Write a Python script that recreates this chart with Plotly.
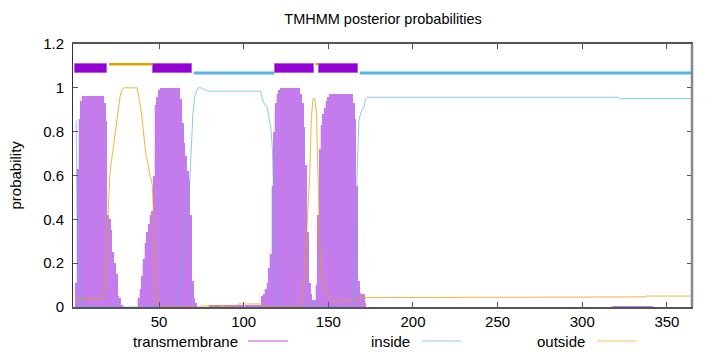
import plotly.graph_objects as go

# ---------------- data ----------------
residues = list(range(1, 366))

tm_prob = ([0.11, 0.63, 0.86, 0.94] + [0.965] * 13
           + [0.93, 0.85, 0.42, 0.40, 0.35, 0.25, 0.20, 0.15, 0.05, 0.04, 0.01]
           + [0.0] * 9
           + [0.04, 0.08, 0.14, 0.22, 0.29, 0.34, 0.38, 0.42, 0.44, 0.60, 0.92, 0.96, 0.99]
           + [1.0] * 12
           + [0.95, 0.84, 0.75, 0.69, 0.62, 0.58, 0.42, 0.12, 0.04, 0.02]
           + [0.0] * 7 + [0.01] * 31
           + [0.05, 0.06, 0.08, 0.11, 0.18, 0.24, 0.55, 0.80, 0.93, 0.97, 0.99]
           + [1.0] * 12
           + [0.97, 0.93, 0.82, 0.65, 0.34, 0.11, 0.06, 0.03, 0.03, 0.10, 0.42, 0.72,
              0.83, 0.88, 0.91, 0.94, 0.96]
           + [0.97] * 14
           + [0.93, 0.86, 0.55, 0.12, 0.065, 0.06, 0.06, 0.02]
           + [0.0] * 145 + [0.003] * 24 + [0.0] * 24)

inside_prob = ([0.85, 0.33, 0.10, 0.02] + [0.0] * 56
               + [0.01, 0.06, 0.15, 0.23, 0.30, 0.37, 0.44, 0.55, 0.71, 0.88, 0.96, 0.98,
                  1.0, 1.0, 1.0, 0.995, 0.99, 0.988]
               + [0.985] * 32
               + [0.95, 0.93, 0.92, 0.91, 0.86, 0.82, 0.72, 0.45, 0.12, 0.03, 0.01]
               + [0.0] * 18 + [0.01, 0.02, 0.02, 0.01] + [0.0] * 21
               + [0.10, 0.35, 0.62, 0.85, 0.88, 0.90, 0.91, 0.95]
               + [0.957] * 149 + [0.951] * 44)

outside_prob = ([0.038] * 17
                + [0.10, 0.28, 0.50, 0.61, 0.67, 0.73, 0.79, 0.85, 0.92, 0.96, 0.99]
                + [1.0] * 9
                + [0.96, 0.92, 0.86, 0.77, 0.71, 0.67, 0.62, 0.59, 0.56, 0.38, 0.08, 0.03, 0.01]
                + [0.0] * 24 + [0.005] * 22 + [0.014] * 14 + [0.01, 0.005] + [0.0] * 21
                + [0.02, 0.06, 0.16, 0.28, 0.45, 0.60, 0.87, 0.95, 0.95, 0.88, 0.58, 0.28,
                   0.16, 0.12, 0.09, 0.06, 0.045, 0.035]
                + [0.03] * 15 + [0.033, 0.04] + [0.043] * 168 + [0.046] + [0.05] * 28)

assert len(tm_prob) == len(inside_prob) == len(outside_prob) == len(residues)

# predicted topology (start, end)
tm_segments = [(1, 19), (47, 69), (119, 141), (145, 167)]
outside_segments = [(20, 46), (142, 144)]
inside_segments = [(70, 118), (168, 365)]

x_ticks = [50, 100, 150, 200, 250, 300, 350]
y_ticks = [0, 0.2, 0.4, 0.6, 0.8, 1.0, 1.2]
y_ticktext = ["0", "0.2", "0.4", "0.6", "0.8", "1", "1.2"]

series_names = ["transmembrane", "inside", "outside"]

# ---------------- styling ----------------
C_TM = "#9400D3"
C_IN = "#56B4E9"
C_OUT = "#E69F00"
FONT = "Liberation Sans, Arial, sans-serif"

W, H = 720, 352
ML, MR, MT, MB = 73, 28, 44, 45
PW, PH = W - ML - MR, H - MT - MB

fig = go.Figure()

# transmembrane impulses: light fill + darker core line
fig.add_trace(go.Bar(x=residues, y=tm_prob, width=1.0,
                     marker=dict(color="#eed6f9", line=dict(width=0)),
                     showlegend=False, hoverinfo="skip"))
fig.add_trace(go.Bar(x=residues, y=tm_prob, width=0.4,
                     marker=dict(color="#c47cec", line=dict(width=0)),
                     name="transmembrane", showlegend=False))

# inside / outside curves
fig.add_trace(go.Scatter(x=residues, y=inside_prob, mode="lines", name="inside",
                         line=dict(color=C_IN, width=1), opacity=0.7, showlegend=False))
fig.add_trace(go.Scatter(x=residues, y=outside_prob, mode="lines", name="outside",
                         line=dict(color=C_OUT, width=1), opacity=0.75, showlegend=False))

# topology bar on top
fig.add_trace(go.Bar(x=[(s + e) / 2 for s, e in tm_segments],
                     width=[e - s + 1 for s, e in tm_segments],
                     y=[0.044] * len(tm_segments), base=[1.066] * len(tm_segments),
                     marker=dict(color=C_TM, line=dict(color="#b060e8", width=1)),
                     showlegend=False, hoverinfo="skip"))

def seg_xy(segs, yv):
    xs, ys = [], []
    for s, e in segs:
        xs += [s + 0.5, e + 0.2, None]
        ys += [yv, yv, None]
    return xs, ys

ox, oy = seg_xy(outside_segments, 1.108)
ix, iy = seg_xy(inside_segments, 1.068)
fig.add_trace(go.Scatter(x=ox, y=oy, mode="lines", line=dict(color=C_OUT, width=2.5),
                         showlegend=False, hoverinfo="skip"))
fig.add_trace(go.Scatter(x=ix, y=iy, mode="lines", line=dict(color=C_IN, width=3),
                         showlegend=False, hoverinfo="skip"))

# ---------------- manual gnuplot-style legend (text, then sample line) ----------------
def px2paper_x(px):
    return (px - ML) / PW

def py2paper_y(py):
    return (H - MB - py) / PH

legend_text_right = [240, 412, 587]
legend_line_span = [(248, 288), (422, 461), (597, 636)]
legend_colors = ["#b452e6", "#8ccbef", "#f0c060"]
ly = 341
annotations = []
shapes = []
for name, tr, (l0, l1), col in zip(series_names, legend_text_right, legend_line_span, legend_colors):
    annotations.append(dict(text=name, x=px2paper_x(tr), y=py2paper_y(ly), xref="paper", yref="paper",
                            xanchor="right", yanchor="middle", showarrow=False,
                            font=dict(family=FONT, size=15, color="#000")))
    shapes.append(dict(type="line", xref="paper", yref="paper",
                       x0=px2paper_x(l0), x1=px2paper_x(l1),
                       y0=py2paper_y(ly), y1=py2paper_y(ly),
                       line=dict(color=col, width=1)))

# y axis title
annotations.append(dict(text="probability", x=px2paper_x(15), y=0.5, xref="paper", yref="paper",
                        xanchor="center", yanchor="middle", textangle=-90, showarrow=False,
                        font=dict(family=FONT, size=15, color="#000")))

# right border (thicker gray in reference)
shapes.append(dict(type="line", xref="paper", yref="paper", x0=1, x1=1, y0=0, y1=1,
                   line=dict(color="#888", width=2.5)))

fig.update_layout(
    width=W, height=H,
    margin=dict(l=ML, r=MR, t=MT, b=MB, pad=0),
    paper_bgcolor="white", plot_bgcolor="white",
    barmode="overlay", bargap=0,
    font=dict(family=FONT, size=15, color="#000"),
    title=dict(text="TMHMM posterior probabilities", x=px2paper_x(383), xref="paper",
               xanchor="center", y=1 - 19 / H, yanchor="middle",
               font=dict(family=FONT, size=14.5, color="#000")),
    xaxis=dict(range=[-0.8, 364.8], tickvals=x_ticks, ticks="inside", ticklen=5,
               tickcolor="#555", showgrid=False, zeroline=False, showline=True,
               linecolor="#555", linewidth=1.5, mirror="ticks",
               tickfont=dict(family=FONT, size=15)),
    yaxis=dict(range=[0, 1.2], tickvals=y_ticks, ticktext=y_ticktext, ticks="inside",
               ticklen=5, tickcolor="#555", showgrid=False, zeroline=False, showline=True,
               linecolor="#333", linewidth=1, mirror="ticks", ticklabelstandoff=5,
               tickfont=dict(family=FONT, size=15)),
    annotations=annotations, shapes=shapes,
)

fig.write_html("out.html")
